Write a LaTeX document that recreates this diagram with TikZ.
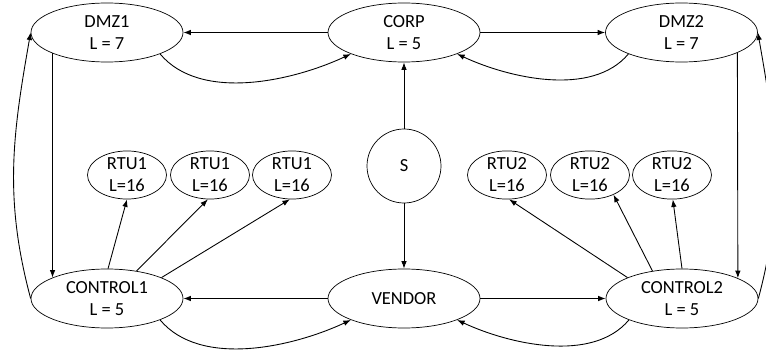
\documentclass[tikz,border=0pt]{standalone}
\usepackage{fontspec}
\setmainfont{Carlito}
\usetikzlibrary{shapes.geometric,arrows.meta}

\tikzset{
    zone/.style={draw, ellipse, align=center, inner sep=0pt,
        minimum width=3.04cm, minimum height=1.18cm},
    rtu/.style={draw, ellipse, align=center, inner sep=0pt,
        minimum width=1.58cm, minimum height=0.88cm},
    link/.style={-{Latex[length=1.5mm,width=1.1mm]}, line width=0.5pt}
}

\begin{document}
\begin{tikzpicture}[font=\fontsize{10.5}{12.5}\selectfont]
    \useasboundingbox (0,0) rectangle (15.32,6.98);

    % Draw the upper zones
    \node[zone] (dmz1) at (2.14,6.33) {DMZ1\\L = 7};
    \node[zone] (corp) at (8.08,6.33) {CORP\\L = 5};
    \node[zone] (dmz2) at (13.63,6.33) {DMZ2\\L = 7};

    % Draw the lower zones
    \node[zone] (control1) at (2.14,1.01) {CONTROL1\\L = 5};
    \node[zone] (vendor) at (8.08,1.01) {VENDOR};
    \node[zone] (control2) at (13.64,1.01) {CONTROL2\\L = 5};

    % Draw the source in the middle
    \node[draw, circle, minimum size=1.48cm, inner sep=0pt] (s) at (8.08,3.66) {S};

    % Draw the field devices
    \node[rtu] (rtu1a) at (2.54,3.48) {RTU1\\L=16};
    \node[rtu] (rtu1b) at (4.20,3.48) {RTU1\\L=16};
    \node[rtu] (rtu1c) at (5.84,3.48) {RTU1\\L=16};
    \node[rtu] (rtu2a) at (10.14,3.48) {RTU2\\L=16};
    \node[rtu] (rtu2b) at (11.80,3.48) {RTU2\\L=16};
    \node[rtu] (rtu2c) at (13.44,3.48) {RTU2\\L=16};

    % Connect the upper zones
    \draw[link] (corp.west) -- (dmz1.east);
    \draw[link] (corp.east) -- (dmz2.west);
    \draw[link] (dmz1.-22) to[out=-50, in=-155, looseness=0.85] (corp.-158);
    \draw[link] (dmz2.-158) to[out=-130, in=-25, looseness=0.85] (corp.-22);

    % Connect the lower zones
    \draw[link] (vendor.west) -- (control1.east);
    \draw[link] (vendor.east) -- (control2.west);
    \draw[link] (control1.-22) to[out=-50, in=-155, looseness=0.85] (vendor.-158);
    \draw[link] (control2.-158) to[out=-130, in=-25, looseness=0.85] (vendor.-22);

    % Connect upper and lower zones on both sides
    \draw[link] (dmz1.201) -- (control1.159);
    \draw[link] (dmz2.-20) -- (control2.20);
    \draw[link] (control1.west) to[out=105, in=-100] (dmz1.west);
    \draw[link] (control2.east) to[out=75, in=-80] (dmz2.east);

    % Connect the source
    \draw[link] (s.north) -- (corp.south);
    \draw[link] (s.south) -- (vendor.north);

    % Connect the field devices
    \draw[link] (control1.88) -- (rtu1a.-90);
    \draw[link] (control1.43) -- (rtu1b.-95);
    \draw[link] (control1.21) -- (rtu1c.-95);
    \draw[link] (control2.159) -- (rtu2a.-85);
    \draw[link] (control2.137) -- (rtu2b.-40);
    \draw[link] (control2.90) -- (rtu2c.-88);

\end{tikzpicture}
\end{document}
